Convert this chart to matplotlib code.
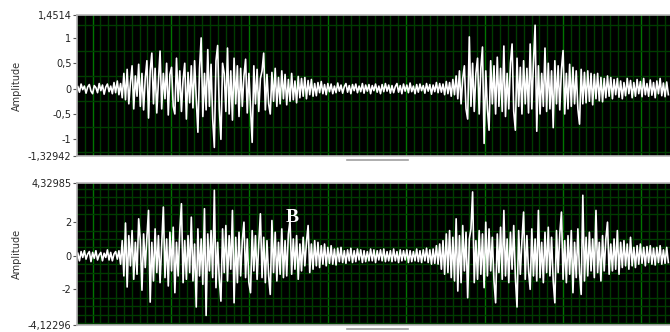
import numpy as np
import matplotlib
matplotlib.use('Agg')
import matplotlib.pyplot as plt
from matplotlib.lines import Line2D

# waveform A (upper graph), one sample per ~1.65 px
wave_a = [
    0.04, -0.07, 0.09, -0.02, 0.05, -0.09, 0.03, 0.08, -0.05, -0.1,
    0.06, 0.02, -0.08, 0.1, -0.04, 0.07, -0.11, 0.03, 0.09, -0.06,
    0.05, -0.1, 0.12, -0.08, 0.15, -0.12, 0.1, -0.18, 0.3, -0.22,
    0.38, -0.3, 0.12, 0.45, -0.4, 0.25, -0.15, 0.48, -0.35, 0.3,
    -0.42, 0.2, 0.55, -0.58, 0.35, 0.7, -0.3, 0.4, -0.48, 0.15,
    0.74, -0.4, 0.3, -0.2, 0.5, -0.52, 0.28, 0.42, -0.35, -0.5,
    0.6, -0.25, 0.35, -0.45, 0.18, 0.5, -0.6, 0.32, -0.28, 0.45,
    -0.38, 0.55, -0.2, -0.86, 0.4, 1.0, -0.55, 0.3, -0.42, 0.77,
    -0.35, 0.48, -0.6, -1.16, 0.55, 0.85, -0.4, -1.0, 0.5, 0.3,
    -0.45, 0.8, -0.5, 0.35, -0.62, 0.6, -0.3, 0.45, -0.55, 0.4,
    -0.35, 0.25, 0.58, -0.48, 0.3, -0.4, -1.06, 0.45, -0.3, 0.38,
    -0.45, 0.2, 0.35, 0.7, -0.42, 0.28, -0.3, -0.5, 0.32, -0.25,
    0.4, -0.35, 0.22, -0.3, 0.35, -0.2, 0.28, -0.32, 0.18, -0.25,
    0.3, -0.22, 0.15, -0.28, 0.24, -0.18, 0.2, -0.15, 0.22, -0.2,
    0.16, -0.12, 0.18, -0.15, 0.1, -0.14, 0.12, -0.08, 0.14, -0.1,
    0.08, -0.12, 0.1, -0.06, 0.09, -0.1, 0.05, -0.08, 0.11, -0.05,
    0.07, -0.09, 0.04, 0.1, -0.07, 0.06, -0.1, 0.08, -0.04, 0.09,
    -0.08, 0.05, -0.06, 0.1, -0.09, 0.07, -0.05, 0.08, -0.1, 0.06,
    -0.04, 0.09, -0.07, 0.05, -0.1, 0.08, -0.06, 0.1, -0.05, 0.07,
    -0.09, 0.06, -0.08, 0.04, 0.1, -0.07, 0.06, -0.1, 0.09, -0.05,
    0.07, -0.08, 0.11, -0.06, 0.05, -0.1, 0.08, -0.07, 0.09, -0.04,
    0.06, -0.09, 0.1, -0.05, 0.08, -0.11, 0.07, -0.06, 0.12, -0.08,
    0.1, -0.07, 0.09, -0.12, 0.14, -0.1, 0.12, -0.15, 0.18, -0.12,
    0.25, -0.2, 0.35, -0.3, 0.2, 0.45, -0.4, -0.6, 1.02, -0.35,
    0.5, -0.45, 0.3, 0.6, -0.5, 0.4, 0.82, -1.08, 0.35, -0.4,
    -0.82, 0.55, -0.3, 0.45, -0.5, 0.62, -0.35, 0.4, -0.45, 0.84,
    -0.55, 0.3, -0.4, 0.5, 0.88, -0.45, -0.82, 0.6, -0.35, 0.42,
    -0.5, 0.55, -0.3, 0.4, -0.48, 0.88, -0.4, 0.52, 1.25, -0.84,
    0.45, -0.5, 0.3, -0.35, 0.8, -0.45, 0.5, -0.4, 0.35, -0.77,
    0.55, -0.3, 0.45, -0.42, 0.38, 0.75, -0.5, 0.3, -0.4, 0.48,
    -0.35, 0.42, -0.3, 0.35, -0.4, -0.7, 0.38, -0.3, 0.32, -0.28,
    0.35, -0.25, 0.3, -0.32, 0.28, -0.2, 0.3, -0.24, 0.22, -0.26,
    0.2, -0.18, 0.25, -0.15, 0.22, -0.2, 0.18, -0.12, 0.2, -0.17,
    0.15, -0.2, 0.12, -0.14, 0.2, -0.1, 0.16, -0.18, 0.12, -0.15,
    0.18, -0.1, 0.14, -0.16, 0.2, -0.12, 0.1, -0.15, 0.17, -0.13,
    0.12, -0.18, 0.15, -0.1, 0.2, -0.14, 0.11, -0.16, 0.13, -0.12,
]

# waveform B (lower graph)
wave_b = [
    0.15, -0.3, 0.25, -0.1, 0.3, -0.2, 0.1, 0.25, -0.35, 0.2,
    -0.15, 0.3, -0.25, 0.05, 0.2, -0.3, 0.15, -0.1, 0.35, -0.25,
    0.2, -0.3, 0.1, 0.25, -0.2, 0.3, -0.5, 0.9, -1.2, 1.95,
    -1.86, 1.2, -0.6, 1.5, -1.4, 0.8, -1.1, 2.2, 0.9, -2.05,
    1.3, -0.7, 1.1, 2.7, -2.76, 0.8, -1.5, 1.6, -1.0, 1.2,
    -1.6, 0.6, 2.9, -1.3, 1.0, -1.8, 1.4, -0.9, 1.7, -2.2,
    0.8, -1.2, 1.5, 3.1, -1.6, 0.9, -1.4, 1.2, -1.0, 2.3,
    -1.5, 0.7, -3.05, 1.6, -1.2, 1.0, -1.7, 2.8, -3.55, 1.3,
    -0.9, 1.5, -1.3, 3.9, -1.9, 0.8, -1.4, -2.7, 1.6, -1.0,
    1.8, -1.5, 1.2, -0.8, 2.7, -2.8, 1.1, -1.6, 1.4, -1.2,
    0.9, 2.0, -1.3, 1.0, -1.6, -2.2, 1.5, -0.9, 1.2, -1.4,
    0.7, 2.5, -1.3, 1.1, -1.6, 0.9, -1.2, -2.3, 2.1, -1.0,
    1.4, -1.5, 0.8, -1.1, 1.6, -1.3, 0.9, -1.2, 1.3, 2.1,
    -1.1, 1.0, -0.8, 1.2, -1.4, 0.7, -0.9, 1.1, -0.6, 0.8,
    1.8, -1.0, 0.7, -0.8, 0.9, -0.6, 0.8, -0.7, 0.6, -0.5,
    0.7, -0.6, 0.5, -0.45, 0.6, -0.5, 0.4, -0.55, 0.45, -0.35,
    0.5, -0.4, 0.3, -0.45, 0.35, -0.3, 0.45, -0.4, 0.3, -0.35,
    0.4, -0.25, 0.35, -0.4, 0.3, -0.35, 0.25, -0.3, 0.4, -0.3,
    0.35, -0.4, 0.3, -0.25, 0.35, -0.3, 0.4, -0.35, 0.25, -0.3,
    0.3, -0.35, 0.4, -0.3, 0.25, -0.4, 0.35, -0.3, 0.3, -0.25,
    0.35, -0.4, 0.3, -0.35, 0.25, -0.3, 0.4, -0.35, 0.3, -0.4,
    0.35, -0.3, 0.45, -0.4, 0.35, -0.5, 0.4, -0.45, 0.6, -0.5,
    0.7, -0.8, 0.9, -1.1, 1.3, -1.0, 1.5, -1.3, 1.1, -1.5,
    2.2, -2.1, 1.2, -1.6, 1.8, -0.9, 1.4, -2.5, 1.0, 1.6,
    3.8, -1.6, 0.9, -1.4, 1.5, -1.1, 1.3, -1.9, 2.0, -1.2,
    1.6, -0.9, 1.1, -1.5, -2.8, 1.3, -1.0, 1.7, -1.4, 2.7,
    -1.2, 1.0, -1.6, 1.4, -0.8, 1.8, -1.3, -3.05, 1.5, -1.1,
    0.9, 2.6, -1.4, 1.2, -0.9, -2.0, 1.6, -1.2, 1.0, -1.5,
    2.7, -1.3, 0.8, -1.6, 1.4, -1.0, 1.7, -1.2, 1.1, -1.5,
    -2.8, 1.5, -1.0, 1.3, 2.6, -1.4, 0.9, -1.6, 1.2, -1.1,
    1.5, -2.2, 0.8, -1.3, 1.6, -1.0, -2.3, 3.6, -1.5, 1.1,
    -1.2, 1.4, -0.9, 1.0, -1.3, 2.7, -1.0, 0.8, -1.5, 1.2,
    -0.9, 1.0, 2.0, -1.1, 0.7, -0.9, 1.0, -0.8, 1.5, -1.1,
    0.8, -0.7, 0.9, -0.6, 0.7, -0.8, 1.1, -0.6, 0.5, -0.7,
    0.6, -0.5, 0.7, -0.45, 0.5, -0.6, 0.55, -0.4, 0.6, -0.5,
    0.45, -0.55, 0.5, -0.4, 0.6, -0.5, 0.35, -0.45, 0.5, -0.4,
]

ticks_a = [-1.32942, -1, -0.5, 0, 0.5, 1, 1.4514]
labels_a = ['-1,32942', '-1', '-0,5', '0', '0,5', '1', '1,4514']
ticks_b = [-4.12296, -2, 0, 2, 4.32985]
labels_b = ['-4,12296', '-2', '0', '2', '4,32985']

minor_green = '#003c00'
major_green = '#007400'

fig = plt.figure(figsize=(6.7, 3.32), dpi=100)
fig.patch.set_facecolor('white')


def draw_graph(ax, wave, ticks, labels, ystep):
    x = np.arange(len(wave))
    ax.set_facecolor('black')
    ax.set_xlim(-0.5, 360)
    ax.set_ylim(ticks[0], ticks[-1])
    # grid: dark minor lines, every tenth vertical one brighter
    xgrid = np.arange(4.17, 360, 4.766)
    ax.set_yticks(np.arange(np.ceil(ticks[0] / ystep) * ystep, ticks[-1], ystep), minor=True)
    ax.set_xticks(xgrid, minor=True)
    ax.set_xticks(xgrid[1::10])
    ax.grid(which='minor', color=minor_green, linewidth=1)
    ax.grid(which='major', axis='x', color=major_green, linewidth=1)
    ax.set_axisbelow(True)
    ax.tick_params(which='minor', length=0)
    ax.tick_params(axis='x', which='major', length=0, labelbottom=False)
    ax.set_yticks(ticks)
    ax.set_yticklabels(labels)
    ax.tick_params(axis='y', which='major', length=3, width=0.8, color='#555555',
                   labelsize=7, labelcolor='#222222', pad=1)
    ax.plot(x, wave, color='white', linewidth=1.2)
    ax.set_ylabel('Amplitude', fontsize=7, color='#333333', labelpad=4)
    for s in ['top', 'left', 'bottom']:
        ax.spines[s].set_color('#b8b8b8')
        ax.spines[s].set_linewidth(1.2)
    ax.spines['right'].set_visible(False)


ax1 = fig.add_axes([0.1149, 0.530, 0.8851, 0.4248])
draw_graph(ax1, wave_a, ticks_a, labels_a, 0.25)

ax2 = fig.add_axes([0.1149, 0.021, 0.8851, 0.4277])
draw_graph(ax2, wave_b, ticks_b, labels_b, 0.5)
ax2.text(0.363, 0.755, 'B', transform=ax2.transAxes, color='white', fontsize=14,
         fontweight='bold', family='Liberation Serif', ha='center', va='center')

# little scroll bars under each graph
fig.add_artist(Line2D([347 / 670, 408 / 670], [1 - 160 / 332] * 2, color='#a0a0a0', linewidth=1.2))
fig.add_artist(Line2D([347 / 670, 408 / 670], [1 - 329 / 332] * 2, color='#a0a0a0', linewidth=1.2))

fig.savefig('out.png', dpi=100, facecolor='white')
